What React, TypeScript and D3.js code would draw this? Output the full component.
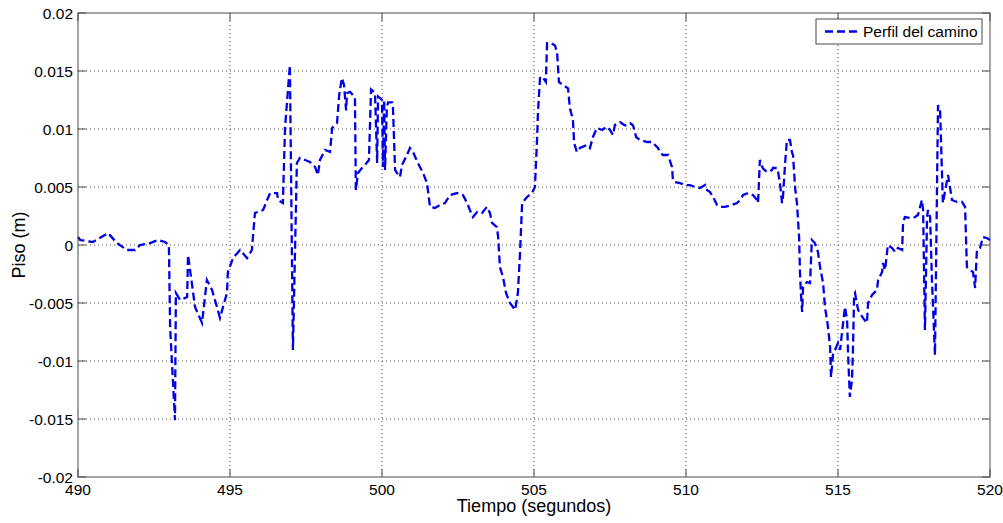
import React from 'react';
import * as d3 from 'd3';

const timeS: number[] = [
  490.00, 490.07, 490.49, 490.99, 491.28, 491.61, 491.88, 492.04, 492.37, 492.63, 492.86, 492.99,
  493.03, 493.19, 493.22, 493.36, 493.59, 493.62, 493.85, 494.08, 494.24, 494.41, 494.57, 494.67,
  494.77, 494.90, 494.93, 495.10, 495.33, 495.56, 495.72, 495.82, 496.09, 496.22, 496.32, 496.55,
  496.58, 496.74, 496.81, 496.97, 497.07, 497.20, 497.30, 497.47, 497.63, 497.80, 497.89, 497.96,
  498.13, 498.29, 498.36, 498.52, 498.59, 498.68, 498.75, 498.82, 498.85, 498.95, 499.11, 499.14,
  499.21, 499.34, 499.44, 499.57, 499.64, 499.77, 499.84, 499.87, 500.00, 500.03, 500.07, 500.10,
  500.16, 500.20, 500.33, 500.36, 500.43, 500.49, 500.59, 500.66, 500.82, 500.92, 501.02, 501.18,
  501.35, 501.48, 501.58, 501.74, 501.91, 502.07, 502.24, 502.47, 502.66, 502.80, 502.89, 502.99,
  503.13, 503.29, 503.45, 503.55, 503.62, 503.78, 503.82, 503.88, 503.98, 504.08, 504.21, 504.38,
  504.47, 504.54, 504.61, 504.77, 504.93, 505.03, 505.10, 505.13, 505.20, 505.30, 505.39, 505.43,
  505.56, 505.69, 505.76, 505.82, 505.95, 506.12, 506.18, 506.28, 506.32, 506.41, 506.51, 506.74,
  506.84, 506.94, 507.07, 507.24, 507.40, 507.50, 507.60, 507.66, 507.76, 507.83, 507.99, 508.16,
  508.26, 508.36, 508.49, 508.72, 508.88, 508.98, 509.08, 509.14, 509.24, 509.41, 509.54, 509.57,
  509.64, 509.80, 509.97, 510.13, 510.30, 510.46, 510.63, 510.69, 510.79, 510.89, 511.02, 511.12,
  511.28, 511.51, 511.68, 511.78, 511.88, 512.04, 512.20, 512.34, 512.37, 512.43, 512.53, 512.66,
  512.70, 512.83, 512.86, 512.99, 513.03, 513.09, 513.16, 513.19, 513.26, 513.32, 513.42, 513.49,
  513.52, 513.59, 513.65, 513.72, 513.75, 513.78, 513.82, 513.85, 513.98, 514.08, 514.14, 514.24,
  514.34, 514.41, 514.51, 514.57, 514.64, 514.67, 514.74, 514.77, 514.84, 514.90, 515.00, 515.07,
  515.13, 515.23, 515.30, 515.33, 515.39, 515.46, 515.49, 515.53, 515.56, 515.66, 515.82, 515.95,
  515.99, 516.12, 516.28, 516.32, 516.45, 516.48, 516.55, 516.61, 516.64, 516.78, 516.88, 516.97,
  517.11, 517.14, 517.20, 517.37, 517.53, 517.63, 517.76, 517.80, 517.86, 517.93, 517.96, 518.03,
  518.09, 518.19, 518.29, 518.36, 518.45, 518.62, 518.75, 518.91, 519.08, 519.18, 519.24, 519.34,
  519.44, 519.51, 519.57, 519.67, 519.77, 519.90, 520.00,
];

const pisoM: number[] = [
  0.69e-3, 0.43e-3, 0.26e-3, 1.03e-3, 0.17e-3, -0.43e-3, -0.43e-3, 0.0, 0.17e-3, 0.43e-3, 0.26e-3, 0.0,
  -7.07e-3, -15.1e-3, -4.14e-3, -4.74e-3, -4.48e-3, -0.86e-3, -5.34e-3, -6.72e-3, -3.02e-3, -3.88e-3, -5.34e-3, -6.29e-3,
  -5.34e-3, -4.14e-3, -2.33e-3, -1.12e-3, -0.43e-3, -1.12e-3, -0.43e-3, 2.76e-3, 3.02e-3, 3.88e-3, 4.48e-3, 4.48e-3,
  3.88e-3, 3.62e-3, 10.09e-3, 15.5e-3, -9.05e-3, 7.07e-3, 7.5e-3, 7.33e-3, 7.16e-3, 6.72e-3, 6.03e-3, 7.33e-3,
  8.19e-3, 8.02e-3, 10.09e-3, 10.5e-3, 12.9e-3, 14.4e-3, 13.8e-3, 11.6e-3, 13.1e-3, 13.2e-3, 12.7e-3, 4.74e-3,
  6.21e-3, 6.64e-3, 6.9e-3, 7.33e-3, 13.4e-3, 13.1e-3, 7.07e-3, 12.8e-3, 12.5e-3, 6.72e-3, 12.5e-3, 6.47e-3,
  11.9e-3, 12.3e-3, 12.3e-3, 11.9e-3, 6.47e-3, 6.21e-3, 5.86e-3, 6.9e-3, 7.76e-3, 8.36e-3, 8.02e-3, 7.07e-3,
  6.21e-3, 5.34e-3, 3.28e-3, 3.19e-3, 3.45e-3, 3.62e-3, 4.31e-3, 4.48e-3, 4.31e-3, 3.62e-3, 3.02e-3, 2.41e-3,
  2.84e-3, 2.76e-3, 3.28e-3, 2.76e-3, 1.9e-3, 1.55e-3, 0.69e-3, -1.9e-3, -2.76e-3, -4.14e-3, -5.0e-3, -5.6e-3,
  -4.14e-3, -0.69e-3, 3.62e-3, 4.14e-3, 4.48e-3, 5.0e-3, 9.05e-3, 11.4e-3, 14.5e-3, 14.4e-3, 14.05e-3, 17.4e-3,
  17.4e-3, 17.2e-3, 16.6e-3, 14.05e-3, 13.8e-3, 13.5e-3, 11.8e-3, 10.8e-3, 8.79e-3, 8.02e-3, 8.36e-3, 8.62e-3,
  8.36e-3, 9.31e-3, 10.09e-3, 9.91e-3, 10.2e-3, 9.91e-3, 9.48e-3, 10.34e-3, 10.5e-3, 10.6e-3, 10.3e-3, 10.5e-3,
  10.3e-3, 9.31e-3, 9.05e-3, 8.88e-3, 8.88e-3, 8.62e-3, 8.36e-3, 8.02e-3, 7.76e-3, 7.76e-3, 6.72e-3, 5.6e-3,
  5.43e-3, 5.34e-3, 5.17e-3, 5.17e-3, 5.0e-3, 4.91e-3, 5.17e-3, 4.74e-3, 4.57e-3, 4.14e-3, 3.45e-3, 3.28e-3,
  3.28e-3, 3.45e-3, 3.62e-3, 3.88e-3, 4.31e-3, 4.48e-3, 4.31e-3, 3.88e-3, 3.62e-3, 7.33e-3, 6.6e-3, 6.3e-3,
  6.29e-3, 6.47e-3, 6.64e-3, 6.64e-3, 6.3e-3, 5.34e-3, 3.62e-3, 4.14e-3, 7.07e-3, 9.05e-3, 9.05e-3, 7.93e-3,
  7.76e-3, 4.91e-3, 3.62e-3, 0.69e-3, -2.41e-3, -4.14e-3, -5.78e-3, -3.62e-3, -3.19e-3, -3.28e-3, 0.43e-3, 0.17e-3,
  -0.6e-3, -1.9e-3, -3.28e-3, -5.34e-3, -6.47e-3, -7.07e-3, -8.79e-3, -11.4e-3, -9.31e-3, -9.05e-3, -8.45e-3, -9.05e-3,
  -7.59e-3, -5.34e-3, -6.47e-3, -9.31e-3, -13.1e-3, -11.6e-3, -9.31e-3, -4.31e-3, -4.14e-3, -5.6e-3, -6.29e-3, -6.72e-3,
  -5.0e-3, -4.31e-3, -3.88e-3, -3.02e-3, -2.33e-3, -1.55e-3, -2.16e-3, -0.69e-3, 0.0, -0.26e-3, -0.6e-3, -0.26e-3,
  -0.43e-3, 1.9e-3, 2.41e-3, 2.33e-3, 2.41e-3, 2.59e-3, 3.88e-3, 3.02e-3, -7.33e-3, 2.41e-3, 3.02e-3, 2.41e-3,
  -3.0e-3, -9.48e-3, 12.07e-3, 11.5e-3, 3.62e-3, 6.03e-3, 3.88e-3, 3.71e-3, 3.71e-3, 3.28e-3, -1.9e-3, -2.16e-3,
  -2.33e-3, -3.71e-3, -0.43e-3, -0.26e-3, 0.69e-3, 0.6e-3, 0.43e-3,
];

const xTickValues = [490, 495, 500, 505, 510, 515, 520];
const yTickValues = [-0.02, -0.015, -0.01, -0.005, 0, 0.005, 0.01, 0.015, 0.02];
const yTickLabels = ['-0.02', '-0.015', '-0.01', '-0.005', '0', '0.005', '0.01', '0.015', '0.02'];
const seriesName = 'Perfil del camino';
const xLabel = 'Tiempo (segundos)';
const yLabel = 'Piso (m)';

const W = 1003;
const H = 523;
const M = { left: 78, top: 13, right: 990, bottom: 477 };
const FONT = 'Arial, "Liberation Sans", Helvetica, sans-serif';
const LINE_COLOR = '#0000e6';

export default function App() {
  const x = d3.scaleLinear().domain([490, 520]).range([M.left, M.right]);
  const y = d3.scaleLinear().domain([-0.02, 0.02]).range([M.bottom, M.top]);
  const pts: [number, number][] = timeS.map((t, i) => [t, pisoM[i]]);
  const line = d3
    .line<[number, number]>()
    .x((d) => x(d[0]))
    .y((d) => y(d[1]));
  const tickLen = 8;
  const axisColor = '#4a4a4a';

  return (
    <svg
      width={W}
      height={H}
      style={{ position: 'absolute', left: 0, top: 0, background: '#fff' }}
      fontFamily={FONT}
    >
      <rect x={0} y={0} width={W} height={H} fill="#fff" />
      {xTickValues.slice(1, -1).map((t) => (
        <line
          key={'gx' + t}
          x1={x(t)}
          x2={x(t)}
          y1={M.top}
          y2={M.bottom}
          stroke="#555"
          strokeWidth={1}
          strokeDasharray="1,3"
        />
      ))}
      {yTickValues.slice(1, -1).map((v) => (
        <line
          key={'gy' + v}
          x1={M.left}
          x2={M.right}
          y1={y(v)}
          y2={y(v)}
          stroke="#555"
          strokeWidth={1}
          strokeDasharray="1,3"
        />
      ))}
      <path
        d={line(pts) || ''}
        fill="none"
        stroke={LINE_COLOR}
        strokeWidth={2.3}
        strokeDasharray="8,4"
        strokeLinejoin="miter"
      />
      <rect
        x={M.left}
        y={M.top}
        width={M.right - M.left}
        height={M.bottom - M.top}
        fill="none"
        stroke={axisColor}
        strokeWidth={1}
      />
      {xTickValues.map((t) => (
        <g key={'xt' + t}>
          <line x1={x(t)} x2={x(t)} y1={M.bottom} y2={M.bottom - tickLen} stroke={axisColor} />
          <line x1={x(t)} x2={x(t)} y1={M.top} y2={M.top + tickLen} stroke={axisColor} />
          <text x={x(t)} y={M.bottom + 18} textAnchor="middle" fontSize={15.5} fill="#000">
            {t}
          </text>
        </g>
      ))}
      {yTickValues.map((v, i) => (
        <g key={'yt' + v}>
          <line x1={M.left} x2={M.left + tickLen} y1={y(v)} y2={y(v)} stroke={axisColor} />
          <line x1={M.right} x2={M.right - tickLen} y1={y(v)} y2={y(v)} stroke={axisColor} />
          <text x={M.left - 5} y={y(v) + 5.5} textAnchor="end" fontSize={15.5} fill="#000">
            {yTickLabels[i]}
          </text>
        </g>
      ))}
      <text x={(M.left + M.right) / 2} y={512} textAnchor="middle" fontSize={18} fill="#000">
        {xLabel}
      </text>
      <text
        transform={`translate(25, ${(M.top + M.bottom) / 2}) rotate(-90)`}
        textAnchor="middle"
        fontSize={18}
        fill="#000"
      >
        {yLabel}
      </text>
      <rect x={816} y={19} width={166} height={25} fill="#fff" stroke={axisColor} strokeWidth={1} />
      <line x1={825} x2={860} y1={31.5} y2={31.5} stroke={LINE_COLOR} strokeWidth={2.3} strokeDasharray="8,4" />
      <text x={863} y={37} fontSize={15.5} fill="#000">
        {seriesName}
      </text>
    </svg>
  );
}
